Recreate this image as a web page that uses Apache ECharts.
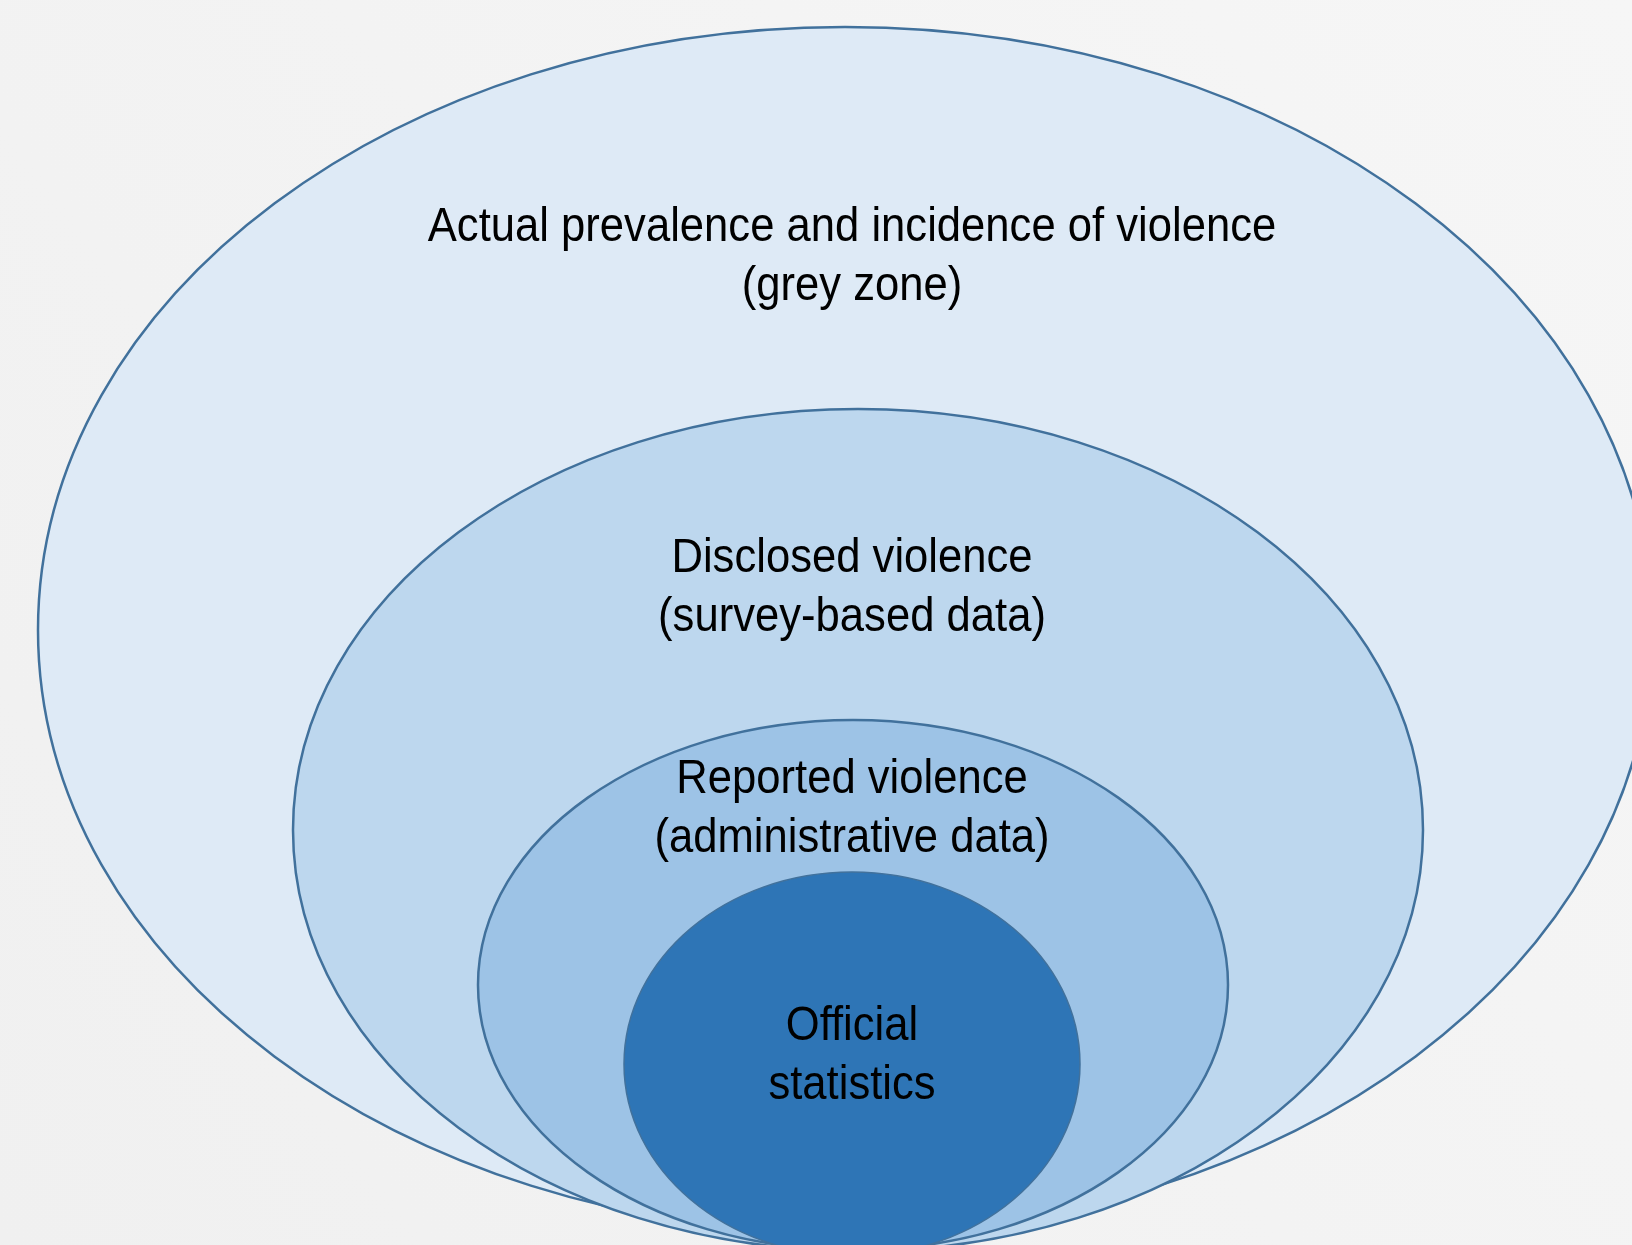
<!DOCTYPE html>
<html>
<head>
<meta charset="utf-8">
<script src="https://cdn.jsdelivr.net/npm/echarts@6/dist/echarts.min.js"></script>
<style>
  html, body { margin: 0; padding: 0; background: #f4f4f4; }
  #chart { width: 1632px; height: 1245px; }
</style>
</head>
<body>
<div id="chart"></div>
<script>
// Nested ellipses (data units = canvas units on hidden axes)
const ringNames  = ['Actual prevalence', 'Disclosed violence', 'Reported violence', 'Official statistics'];
const centerX    = [845, 858, 853, 852];
const centerY    = [630, 830, 985, 1064];
const radiusX    = [807, 565, 375, 228];
const radiusY    = [603, 421, 265, 192];
const labelLine1 = ['Actual prevalence and incidence of violence', 'Disclosed violence', 'Reported violence', 'Official'];
const labelLine2 = ['(grey zone)', '(survey-based data)', '(administrative data)', 'statistics'];
const labelY     = [227, 558, 779, 1026];

const fillColors = ['#deeaf6', '#bdd7ee', '#9dc3e6', '#2e75b6'];
const lineGap = 59;

const seriesData = ringNames.map((n, i) => ({
  name: n,
  value: [centerX[i], centerY[i], radiusX[i], radiusY[i], labelY[i]]
}));

const chart = echarts.init(document.getElementById('chart'));
chart.setOption({
  animation: false,
  backgroundColor: {
    type: 'linear', x: 1, y: 0, x2: 0, y2: 1,
    colorStops: [{ offset: 0, color: '#f6f6f6' }, { offset: 1, color: '#f0f0f0' }]
  },
  grid: { left: 0, right: 0, top: 0, bottom: 0 },
  xAxis: { type: 'value', min: 0, max: 1632, show: false },
  yAxis: { type: 'value', min: 0, max: 1245, inverse: true, show: false },
  series: [{
    type: 'custom',
    coordinateSystem: 'cartesian2d',
    clip: false,
    data: seriesData,
    renderItem: function (params, api) {
      const i = params.dataIndex;
      const cx = api.value(0), cy = api.value(1), rx = api.value(2), ry = api.value(3), ly = api.value(4);
      const c = api.coord([cx, cy]);
      const e = api.coord([cx + rx, cy + ry]);
      const t1 = api.coord([cx, ly]);
      const t2 = api.coord([cx, ly + lineGap]);
      const tx = api.coord([852, 0])[0];
      const textStyle = (txt) => ({
        text: txt,
        fill: '#000000',
        fontSize: 49,
        fontFamily: '"Liberation Sans", Arial, sans-serif',
        align: 'center',
        verticalAlign: 'middle'
      });
      return {
        type: 'group',
        children: [
          {
            type: 'ellipse',
            shape: { cx: c[0], cy: c[1], rx: Math.abs(e[0] - c[0]), ry: Math.abs(e[1] - c[1]) },
            style: { fill: fillColors[i], stroke: '#41719c', lineWidth: i === 3 ? 1.5 : 2.5 }
          },
          { type: 'text', x: tx, y: t1[1], scaleX: 0.89, z2: 10, style: textStyle(labelLine1[i]) },
          { type: 'text', x: tx, y: t2[1], scaleX: 0.89, z2: 10, style: textStyle(labelLine2[i]) }
        ]
      };
    }
  }]
});
</script>
</body>
</html>
